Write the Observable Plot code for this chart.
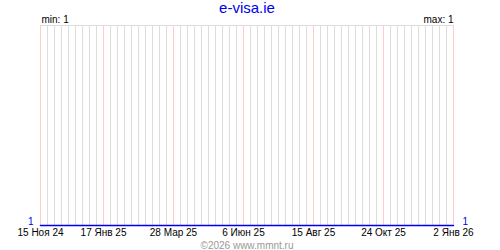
<!DOCTYPE html>
<html>
<head>
<meta charset="utf-8">
<script src="https://cdn.jsdelivr.net/npm/d3@7"></script>
<script src="https://cdn.jsdelivr.net/npm/@observablehq/plot@0.6"></script>
<style>
  html, body { margin: 0; padding: 0; background: #fff; }
  svg { display: block; }
</style>
</head>
<body>
<div id="chart"></div>
<script>
const title = "e-visa.ie";
const footer = "©2026 www.mmnt.ru";
// series (constant 1 over the whole period)
const seriesDates = ["2024-11-15", "2026-01-02"];
const seriesValues = [1, 1];
// labelled ticks
const tickDates = ["2024-11-15", "2025-01-17", "2025-03-28", "2025-06-06", "2025-08-15", "2025-10-24", "2026-01-02"];
const tickLabels = ["15 Ноя 24", "17 Янв 25", "28 Мар 25", "6 Июн 25", "15 Авг 25", "24 Окт 25", "2 Янв 26"];
const minLabel = "min: 1";
const maxLabel = "max: 1";
const yLabel = "1";

const parse = d3.utcParse("%Y-%m-%d");
const series = seriesDates.map((d, i) => ({date: parse(d), value: seriesValues[i]}));
const ticks = tickDates.map((d, i) => ({date: parse(d), label: tickLabels[i]}));
const x0 = parse(seriesDates[0]), x1 = parse(seriesDates[seriesDates.length - 1]);
const weekly = d3.utcDay.range(x0, d3.utcDay.offset(x1, 1), 7);
const yMin = d3.min(seriesValues);

const font = "'Liberation Sans', Arial, sans-serif";

const chart = Plot.plot({
  width: 500,
  height: 250,
  marginLeft: 40,
  marginRight: 47,
  marginTop: 25,
  marginBottom: 25,
  style: {fontFamily: font, background: "#fff"},
  x: {type: "utc", domain: [x0, x1], axis: null},
  y: {domain: [yMin, yMin + 1], axis: null},
  marks: [
    Plot.ruleX(weekly, {stroke: "#dddddd", strokeWidth: 1}),
    Plot.ruleX(ticks, {x: "date", stroke: "#ffcccc", strokeWidth: 1}),
    Plot.ruleY([yMin + 1], {stroke: "#dddddd", strokeWidth: 1}),
    Plot.line(series, {x: "date", y: "value", stroke: "#0000ee", strokeWidth: 1.5}),
    Plot.text(ticks, {x: "date", text: "label", frameAnchor: "bottom", dy: 10, fontSize: 10, fill: "#000"}),
    Plot.text([title], {frameAnchor: "top", dy: -23, fontSize: 15, fill: "#0000ee"}),
    Plot.text([footer], {frameAnchor: "bottom", dy: 23, fontSize: 10, fill: "#999999"}),
    Plot.text([minLabel], {frameAnchor: "top-left", dy: -10, dx: 1, fontSize: 10, fill: "#000"}),
    Plot.text([maxLabel], {frameAnchor: "top-right", dy: -10, dx: 0, fontSize: 10, fill: "#000"}),
    Plot.text(series.slice(0, 1), {x: "date", y: "value", text: () => yLabel, textAnchor: "end", dx: -7, dy: -4, fontSize: 10, fill: "#0000ee"}),
    Plot.text(series.slice(-1), {x: "date", y: "value", text: () => yLabel, textAnchor: "start", dx: 9, dy: -4, fontSize: 10, fill: "#0000ee"})
  ]
});
document.getElementById("chart").append(chart);
</script>
</body>
</html>
